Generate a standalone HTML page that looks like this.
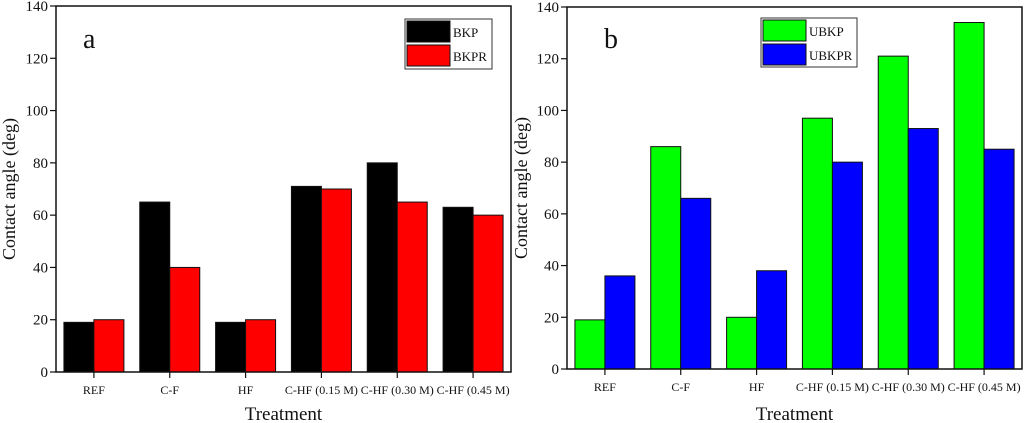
<!DOCTYPE html>
<html><head><meta charset="utf-8"><style>
body{margin:0;background:#fff;width:1024px;height:423px;overflow:hidden}
svg{position:absolute;left:0;top:0}
text{font-family:"Liberation Serif",serif;fill:#111}
</style></head><body>
<svg id="c" width="1024" height="423"></svg>
<script>
const categories=["REF","C-F","HF","C-HF (0.15 M)","C-HF (0.30 M)","C-HF (0.45 M)"];
const bkp=[19,65,19,71,80,63];
const bkpr=[20,40,20,70,65,60];
const ubkp=[19,86,20,97,121,134];
const ubkpr=[36,66,38,80,93,85];
const yTicks=[0,20,40,60,80,100,120,140];
const NS="http://www.w3.org/2000/svg";
const svg=document.getElementById('c');
function el(t,a,p){const e=document.createElementNS(NS,t);for(const k in a)e.setAttribute(k,a[k]);(p||svg).appendChild(e);return e;}
function panel(cfg){
  const g=el('g',{});
  
  
  const {L,R,T,B}=cfg;
  const y=v=>B-(v/140)*(B-T);
  const step=(R-L)/categories.length;
  const x=i=>L+(i+0.5)*step;
  const bw=30;
  [[cfg.s1,cfg.c1,-1,cfg.n1],[cfg.s2,cfg.c2,0,cfg.n2]].forEach(([s,c,off,n])=>{
    s.forEach((v,i)=>{
      const r=el('rect',{x:x(i)+off*bw,y:y(v),width:bw,height:B-y(v),fill:c,stroke:'#111','stroke-width':1},g);
      
      
    });
  });
  const f=el('rect',{x:L,y:T,width:R-L,height:B-T,fill:'none',stroke:'#111','stroke-width':1.5},g);
  
  
  yTicks.forEach(v=>{
    el('line',{x1:L-6,x2:L,y1:y(v),y2:y(v),stroke:'#111','stroke-width':1.2},g);
    const t=el('text',{x:L-8,y:y(v)+5,'text-anchor':'end','font-size':15},g);
    t.textContent=v;
    
    
  });
  categories.forEach((c,i)=>{
    el('line',{x1:x(i),x2:x(i),y1:B,y2:B+6,stroke:'#111','stroke-width':1.2},g);
    const t=el('text',{x:x(i),y:B+22,'text-anchor':'middle','font-size':12},g);
    t.textContent=c;
    
    
  });
  const xt=el('text',{x:(L+R)/2,y:420,'text-anchor':'middle','font-size':19},g);
  xt.textContent='Treatment';
  
  
  const yt=el('text',{x:0,y:0,'text-anchor':'middle','font-size':18,transform:`translate(${cfg.ytx},${(T+B)/2}) rotate(-90)`},g);
  yt.textContent='Contact angle (deg)';
  
  
  const pl=el('text',{x:cfg.lx,y:48,'font-size':28},g);
  pl.textContent=cfg.label;
  
  
  const lg=el('g',{},g);
  
  
  const [bx,by,bwid,bh]=cfg.leg;
  el('rect',{x:bx,y:by,width:bwid,height:bh,fill:'#fff',stroke:'#333','stroke-width':1},lg);
  [[cfg.c1,cfg.n1],[cfg.c2,cfg.n2]].forEach(([c,n],k)=>{
    el('rect',{x:bx+2,y:by+2+k*24,width:43,height:21,fill:c,stroke:'#111','stroke-width':1},lg);
    const t=el('text',{x:bx+48,y:by+18+k*24,'font-size':13},lg);
    t.textContent=n;
    
    
  });
}
panel({name:'chart-a',L:56,R:511,T:6,B:372,s1:bkp,s2:bkpr,c1:'#000',c2:'#ff0000',n1:'BKP',n2:'BKPR',label:'a',lx:83,ytx:15,leg:[405,19,87,50]});
panel({name:'chart-b',L:567,R:1022,T:7,B:369,s1:ubkp,s2:ubkpr,c1:'#00ff00',c2:'#0000ff',n1:'UBKP',n2:'UBKPR',label:'b',lx:604,ytx:527,leg:[761,18,96,49]});
</script>
</body></html>
